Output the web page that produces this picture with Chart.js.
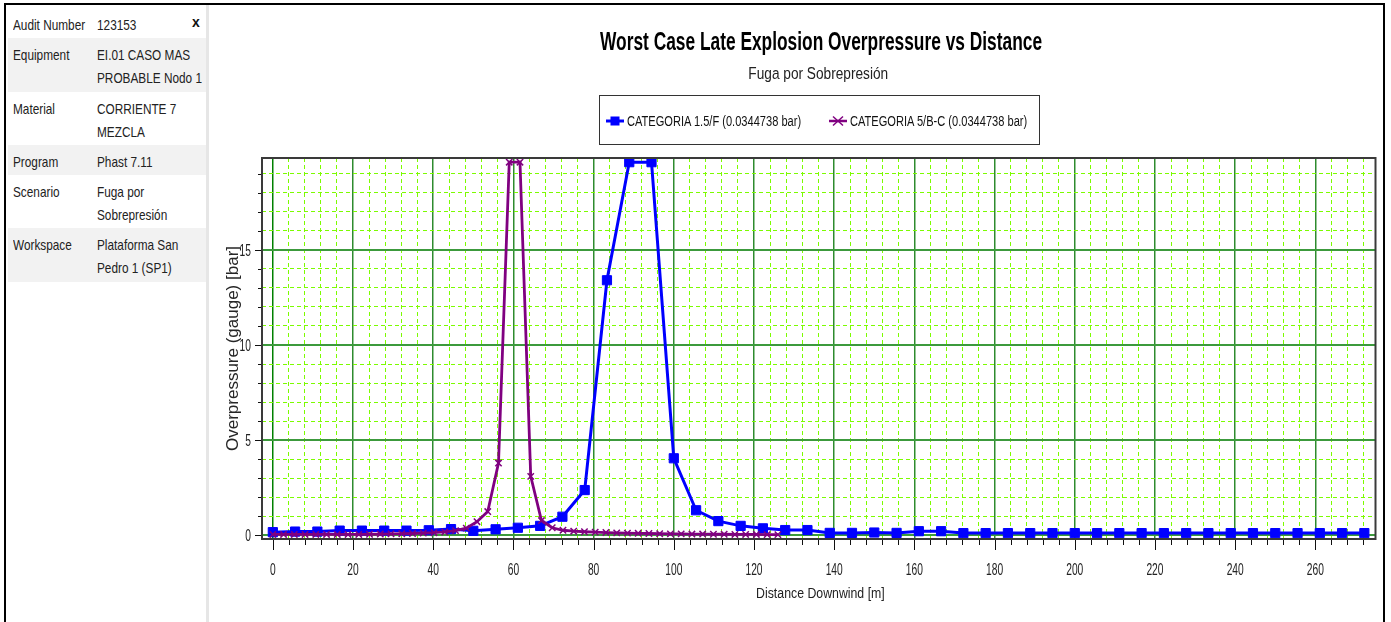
<!DOCTYPE html>
<html>
<head>
<meta charset="utf-8">
<title>Worst Case Late Explosion Overpressure vs Distance</title>
<script src="https://cdn.jsdelivr.net/npm/chart.js@4.4.1/dist/chart.umd.min.js"></script>
<style>
  html, body { margin: 0; padding: 0; background: #fff; width: 1391px; height: 622px; overflow: hidden; }
  body { font-family: "Liberation Sans", Arial, sans-serif; color: #1e1e1e; }
  #frame { position: absolute; left: 4px; top: 3px; width: 1377px; height: 640px; border: 2px solid #000; border-bottom: none; }
  #sep { position: absolute; left: 206px; top: 5px; width: 3px; height: 620px; background: #e6e6e6; }
  .row { position: absolute; left: 8px; width: 198px; }
  .row.alt { background: #f2f2f2; }
  .k, .v { position: absolute; top: 6px; font-size: 14.4px; line-height: 23px; white-space: nowrap; color: #222; }
  .k { left: 5px; }
  .v { left: 89px; }
  .sq { display: inline-block; white-space: nowrap; }
  .k .sq, .v .sq { transform: scaleX(0.82); transform-origin: 0 50%; }
  #close { position: absolute; left: 192px; top: 14px; font-size: 14px; font-weight: bold; color: #111; }
  #chartbox { position: absolute; left: 213px; top: 4px; width: 1170px; height: 618px; }
  .center { position: absolute; width: 1000px; text-align: center; white-space: nowrap; }
  .center .sq { transform-origin: 50% 50%; }
  #title { left: 321px; top: 26px; font-size: 25.5px; line-height: 30px; font-weight: bold; color: #000; }
  #title .sq { transform: scaleX(0.68); }
  #subtitle { left: 318px; top: 63px; font-size: 16.3px; line-height: 20px; color: #222; }
  #subtitle .sq { transform: scaleX(0.84); }
  #xtitle { left: 320px; top: 583px; font-size: 15.4px; line-height: 20px; color: #222; }
  #xtitle .sq { transform: scaleX(0.8); }
  #legend { position: absolute; left: 599px; top: 95px; width: 439px; height: 48px; border: 1.5px solid #333; }
  .lg-text { position: absolute; font-size: 15.4px; line-height: 20px; color: #111; white-space: nowrap; }
  .lg-text .sq { transform: scaleX(0.72); transform-origin: 0 50%; }
  .lg-glyph { position: absolute; top: 114px; }
</style>
</head>
<body>
<div id="frame"></div>
<div id="sep"></div>

<div class="row" style="top:8px;height:30px"><div class="k"><span class="sq">Audit Number</span></div><div class="v"><span class="sq">123153</span></div></div>
<div id="close">x</div>
<div class="row alt" style="top:38px;height:54px"><div class="k"><span class="sq">Equipment</span></div><div class="v"><span class="sq">EI.01 CASO MAS<br>PROBABLE Nodo 1</span></div></div>
<div class="row" style="top:92px;height:53px"><div class="k"><span class="sq">Material</span></div><div class="v"><span class="sq">CORRIENTE 7<br>MEZCLA</span></div></div>
<div class="row alt" style="top:145px;height:30px"><div class="k"><span class="sq">Program</span></div><div class="v"><span class="sq">Phast 7.11</span></div></div>
<div class="row" style="top:175px;height:53px"><div class="k"><span class="sq">Scenario</span></div><div class="v"><span class="sq">Fuga por<br>Sobrepresión</span></div></div>
<div class="row alt" style="top:228px;height:54px"><div class="k"><span class="sq">Workspace</span></div><div class="v"><span class="sq">Plataforma San<br>Pedro 1 (SP1)</span></div></div>

<div id="chartbox"><canvas id="chart"></canvas></div>

<div id="title" class="center"><span class="sq">Worst Case Late Explosion Overpressure vs Distance</span></div>
<div id="subtitle" class="center"><span class="sq">Fuga por Sobrepresión</span></div>
<div id="legend"></div>
<svg class="lg-glyph" style="left:606px" width="18" height="14" viewBox="0 0 18 14">
  <line x1="0" y1="7" x2="18" y2="7" stroke="#0000ff" stroke-width="3"/>
  <rect x="4.5" y="2.5" width="9" height="9" fill="#0000ff"/>
</svg>
<div class="lg-text" id="lg1" style="left:627px;top:111px"><span class="sq"></span></div>
<svg class="lg-glyph" style="left:829px" width="18" height="14" viewBox="0 0 18 14">
  <line x1="0" y1="7" x2="18" y2="7" stroke="#800080" stroke-width="2.5"/>
  <path d="M4 2.5 L14 11.5 M14 2.5 L4 11.5" stroke="#800080" stroke-width="1.5" fill="none"/>
</svg>
<div class="lg-text" id="lg2" style="left:850px;top:111px"><span class="sq"></span></div>
<div id="xtitle" class="center"><span class="sq">Distance Downwind [m]</span></div>

<script>
// CATEGORIA 1.5/F : distance downwind [m] and overpressure [bar]
const blueDistance = [0, 5.56, 11.11, 16.67, 22.22, 27.78, 33.33, 38.89, 44.44, 50,
  55.56, 61.11, 66.67, 72.22, 77.78, 83.33, 88.89, 94.44, 100, 105.56,
  111.11, 116.67, 122.22, 127.78, 133.33, 138.89, 144.44, 150, 155.56, 161.11,
  166.67, 172.22, 177.78, 183.33, 188.89, 194.44, 200, 205.56, 211.11, 216.67,
  222.22, 227.78, 233.33, 238.89, 244.44, 250, 255.56, 261.11, 266.67, 272.22];
const blueOverpressure = [0.17, 0.2, 0.2, 0.25, 0.25, 0.25, 0.25, 0.27, 0.33, 0.24,
  0.32, 0.4, 0.5, 0.98, 2.38, 13.4, 19.6, 19.6, 4.05, 1.32,
  0.75, 0.5, 0.37, 0.28, 0.28, 0.13, 0.13, 0.15, 0.13, 0.22,
  0.22, 0.12, 0.12, 0.12, 0.12, 0.12, 0.12, 0.12, 0.12, 0.12,
  0.12, 0.12, 0.12, 0.12, 0.12, 0.12, 0.12, 0.12, 0.12, 0.12];

// CATEGORIA 5/B-C : distance downwind [m] and overpressure [bar]
const purpleDistance = [0, 2.68, 5.36, 8.04, 10.72, 13.4, 16.08, 18.76, 21.44, 24.12,
  26.8, 29.48, 32.16, 34.84, 37.52, 40.2, 42.88, 45.56, 48.24, 50.92,
  53.6, 56.28, 58.96, 61.64, 64.32, 67.0, 69.68, 72.36, 75.04, 77.72,
  80.4, 83.08, 85.76, 88.44, 91.12, 93.8, 96.48, 99.16, 101.84, 104.52,
  107.2, 109.88, 112.56, 115.24, 117.92, 120.6, 123.28, 125.96];
const purpleOverpressure = [0.05, 0.05, 0.05, 0.05, 0.05, 0.05, 0.05, 0.05, 0.05, 0.06,
  0.07, 0.08, 0.09, 0.1, 0.12, 0.14, 0.18, 0.25, 0.38, 0.72,
  1.25, 3.8, 19.6, 19.6, 3.1, 0.78, 0.4, 0.27, 0.22, 0.19,
  0.17, 0.15, 0.13, 0.12, 0.11, 0.1, 0.09, 0.08, 0.08, 0.07,
  0.07, 0.06, 0.06, 0.05, 0.05, 0.05, 0.04, 0.04];

const seriesNames = ['CATEGORIA 1.5/F (0.0344738 bar)', 'CATEGORIA 5/B-C (0.0344738 bar)'];
const xTickLabels = [0, 20, 40, 60, 80, 100, 120, 140, 160, 180, 200, 220, 240, 260];
const yTickLabels = [0, 5, 10, 15];

const FONT = '"Liberation Sans", Arial, sans-serif';
const BLUE = '#0000ff';
const PURPLE = '#800080';

document.querySelector('#lg1 .sq').textContent = seriesNames[0];
document.querySelector('#lg2 .sq').textContent = seriesNames[1];

const pairs = (xs, ys) => xs.map((x, i) => ({ x: x, y: ys[i] }));

// Plot frame, tick marks and narrow tick labels placed by the scales
const frameAndTicks = {
  id: 'frameAndTicks',
  afterDraw(chart) {
    const { ctx, chartArea: a, scales: { x, y } } = chart;
    ctx.save();
    ctx.strokeStyle = '#111';
    ctx.lineWidth = 1;
    ctx.beginPath();
    x.ticks.forEach(t => {
      const px = Math.round(x.getPixelForValue(t.value)) + 0.5;
      const len = xTickLabels.includes(t.value) ? 11 : 6;
      ctx.moveTo(px, a.bottom); ctx.lineTo(px, a.bottom + len);
    });
    y.ticks.forEach(t => {
      const py = Math.round(y.getPixelForValue(t.value)) + 0.5;
      const len = yTickLabels.includes(t.value) ? 7 : 4;
      ctx.moveTo(a.left, py); ctx.lineTo(a.left - len, py);
    });
    ctx.stroke();

    ctx.strokeStyle = '#3a3a3a';
    ctx.lineWidth = 2;
    ctx.strokeRect(a.left, a.top, a.right - a.left, a.bottom - a.top);

    ctx.fillStyle = '#222';
    ctx.font = '16.5px ' + FONT;
    ctx.textBaseline = 'alphabetic';
    ctx.textAlign = 'center';
    xTickLabels.forEach(v => {
      ctx.save();
      ctx.translate(x.getPixelForValue(v), a.bottom + 36);
      ctx.scale(0.62, 1);
      ctx.fillText(String(v), 0, 0);
      ctx.restore();
    });
    ctx.textAlign = 'right';
    yTickLabels.forEach(v => {
      ctx.save();
      ctx.translate(a.left - 11, y.getPixelForValue(v) + 6);
      ctx.scale(0.62, 1);
      ctx.fillText(String(v), 0, 0);
      ctx.restore();
    });
    ctx.restore();
  }
};

new Chart(document.getElementById('chart'), {
  type: 'line',
  data: {
    datasets: [
      {
        label: seriesNames[0],
        data: pairs(blueDistance, blueOverpressure),
        borderColor: BLUE, backgroundColor: BLUE,
        borderWidth: 3, tension: 0,
        pointStyle: 'rect', pointRadius: 6.5, pointBorderWidth: 1,
        pointBackgroundColor: BLUE, pointBorderColor: BLUE,
        order: 1
      },
      {
        label: seriesNames[1],
        data: pairs(purpleDistance, purpleOverpressure),
        borderColor: PURPLE, backgroundColor: PURPLE,
        borderWidth: 2.8, tension: 0,
        pointStyle: 'crossRot', pointRadius: 4.5, pointBorderWidth: 1.5,
        pointBorderColor: PURPLE,
        order: 0
      }
    ]
  },
  options: {
    responsive: true,
    maintainAspectRatio: false,
    animation: false,
    events: [],
    layout: { padding: { left: 0, right: 6, top: 154, bottom: 0 } },
    plugins: {
      title: { display: false },
      subtitle: { display: false },
      legend: { display: false },
      tooltip: { enabled: false }
    },
    scales: {
      x: {
        type: 'linear',
        min: -2.7, max: 275,
        afterFit(scale) { scale.height = 83; },
        ticks: { display: false, stepSize: 4, includeBounds: false, autoSkip: false },
        grid: {
          drawTicks: false,
          color: c => (c.tick && xTickLabels.includes(c.tick.value)) ? (c.tick.value === 0 ? '#008000' : '#2e8b2e') : '#7cfc00',
          lineWidth: c => (c.tick && xTickLabels.includes(c.tick.value)) ? 1.5 : 1
        },
        border: {
          display: false,
          dash: c => (c.tick && xTickLabels.includes(c.tick.value)) ? [] : [4, 3]
        }
      },
      y: {
        type: 'linear',
        min: -0.19, max: 19.82,
        afterFit(scale) { scale.width = 49; },
        ticks: { display: false, stepSize: 1, includeBounds: false, autoSkip: false },
        grid: {
          drawTicks: false,
          color: c => (c.tick && yTickLabels.includes(c.tick.value)) ? '#3c9a3c' : '#7cfc00',
          lineWidth: c => (c.tick && yTickLabels.includes(c.tick.value)) ? 2 : 1
        },
        border: {
          display: false,
          dash: c => (c.tick && yTickLabels.includes(c.tick.value)) ? [] : [4, 3]
        },
        title: {
          display: true, text: 'Overpressure (gauge) [bar]', color: '#262626',
          font: { family: FONT, size: 17 },
          padding: { top: 10, bottom: 0 }
        }
      }
    }
  },
  plugins: [frameAndTicks]
});
</script>
</body>
</html>
